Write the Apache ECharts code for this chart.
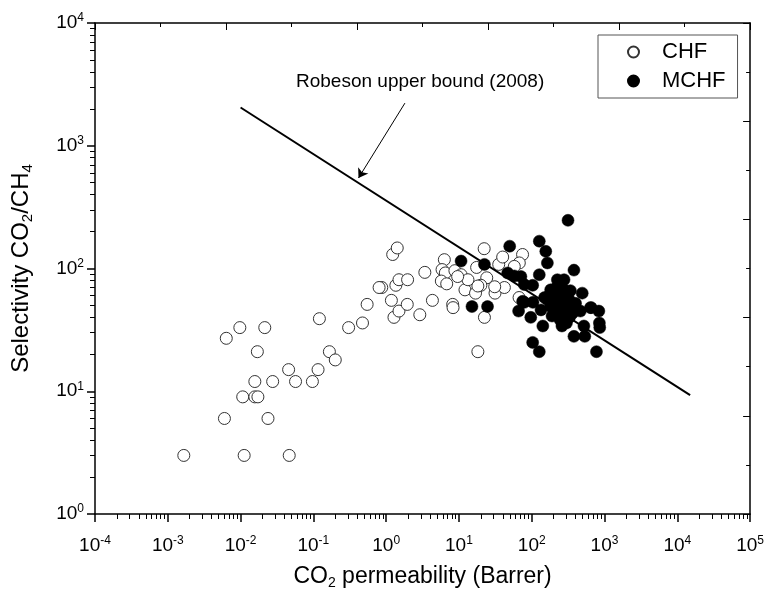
<!DOCTYPE html>
<html><head><meta charset="utf-8">
<script src="https://cdn.jsdelivr.net/npm/echarts@6/dist/echarts.min.js"></script>
<style>html,body{margin:0;padding:0;background:#fff}#c{width:767px;height:595px}</style>
</head><body><div id="c"></div>
<script>
// ---- data ----
const chfX = [0.00166,0.0112,0.0466,0.0060,0.0238,0.0107,0.0157,0.0173,0.0157,0.0276,0.0569,0.097,0.0457,0.116,0.166,0.200,0.0170,0.00636,0.00977,0.0215,0.121,0.305,0.473,0.548,1.28,1.50,1.18,1.95,2.9,4.32,8.2,8.3,0.87,0.80,1.36,1.50,1.97,1.23,1.42,3.40,6.3,5.86,6.5,8.8,10.7,5.73,6.79,12.1,16.9,18.2,22.2,22.4,17.5,24.1,35.2,39.9,31.3,42.1,20,74.8,67.5,67,18.2,13.3,9.6,31,57.6];
const chfY = [3,3,3,6,6,9,9,9,12,12,12,12,15,15,21,18,21,27,33,33,39,33,36,51,40,45,55,51,42,55,51,48,70,70,73,81,81,130,147,93,118,98,92,96,89,79,75,67,63,21,145,40,102,84,108,124,63,70,73,130,111,58,72,81,86,71,104];
const mchfX = [10.7,22.4,15.1,24.7,49.8,46.7,57.6,66,79,315,127,156,164,380,127,71,103,247,494,75,97,142,103,127,380,521,536,775,656,836,850,860,325,79,182,278,164,224,308,104,134,190,246,360,466,641,225,278,235,278,182,278,200,260,300,330,220,180,400,150,260,300,210,340];
const mchfY = [115,108,49,49,152,92,87,45,53,247,167,138,111,97,89,86,73,66,63,54,40,34,25,21,28,34,28,21,48,45,36,33,56,74,67,67,56,56,56,53,46,41,38,43,45,48,81,81,46,43,49,52,60,60,47,40,70,62,52,58,34,36,50,66];
const robesonX = [0.01, 15000];
const robesonY = [2050, 9.3];
const arrowX = [1.81, 0.417];
const arrowY = [2225, 546];
const xTickExp = [-4,-3,-2,-1,0,1,2,3,4,5];
const yTickExp = [0,1,2,3,4];
const seriesNames = ['CHF','MCHF'];
const annotation = 'Robeson upper bound (2008)';

// ---- helpers ----
const FONT = '"Liberation Sans", Arial, Helvetica, sans-serif';
const zip = (a, b) => a.map((v, i) => [v, b[i]]);
function minorVals(exps) {
  const out = [];
  for (let i = 0; i < exps.length - 1; i++)
    for (let m = 2; m <= 9; m++) out.push(m * Math.pow(10, exps[i]));
  return out;
}
const supRich = {
  b: {fontSize: 19, fontFamily: FONT, color: '#000'},
  s: {fontSize: 12, fontFamily: FONT, color: '#000', padding: [0, 0, 10, 0]}
};
const expLabel = v => '{b|10}{s|' + Math.round(Math.log10(v)) + '}';
const blackLine = w => ({color: '#000', width: w});
// opposite (top/right) frame axes: plain linear scales, 10 divisions
const frameAxis = pos => ({type: 'value', min: 0, max: 10, interval: 2, position: pos,
  axisLine: {show: true, onZero: false, lineStyle: blackLine(1.5)},
  axisTick: {show: true, inside: true, length: 7, lineStyle: blackLine(1)},
  minorTick: {show: true, splitNumber: 2, length: 4, lineStyle: blackLine(1)},
  axisLabel: {show: false}, splitLine: {show: false}});

const chart = echarts.init(document.getElementById('c'), null, {renderer: 'canvas'});
chart.setOption({
  animation: false,
  backgroundColor: '#fff',
  grid: {left: 95, right: 13, top: 23, bottom: 80, containLabel: false},
  legend: {
    orient: 'vertical', left: 598, top: 35,
    padding: [6, 12, 6, 29], itemWidth: 11, itemHeight: 11, itemGap: 7,
    borderColor: '#555', borderWidth: 1, backgroundColor: '#fff',
    textStyle: {fontSize: 22, lineHeight: 22, fontFamily: FONT, color: '#000', padding: [0, 0, 0, 18]},
    data: [{name: seriesNames[0], icon: 'circle'}, {name: seriesNames[1], icon: 'circle'}]
  },
  xAxis: [
    {type: 'log', logBase: 10, min: Math.pow(10, xTickExp[0]), max: Math.pow(10, xTickExp[xTickExp.length-1]),
     splitNumber: xTickExp.length - 1, position: 'bottom',
     axisLine: {show: true, onZero: false, lineStyle: blackLine(1.5)},
     axisTick: {show: true, inside: false, length: 8, lineStyle: blackLine(1.5)},
     minorTick: {show: false}, splitLine: {show: false},
     axisLabel: {formatter: expLabel, rich: supRich, margin: 21, color: '#000'},
     name: 'CO{sub|2} permeability (Barrer)', nameLocation: 'middle', nameGap: 50,
     nameTextStyle: {fontSize: 23, fontFamily: FONT, color: '#000',
       rich: {sub: {fontSize: 14, fontFamily: FONT, color: '#000', padding: [12, 0, 0, 0]}}}},
    {type: 'log', logBase: 10, min: Math.pow(10, xTickExp[0]), max: Math.pow(10, xTickExp[xTickExp.length-1]),
     position: 'bottom',
     axisLine: {show: false, onZero: false},
     axisTick: {show: true, inside: false, length: 5, customValues: minorVals(xTickExp), lineStyle: blackLine(1)},
     axisLabel: {show: false}, splitLine: {show: false}},
    frameAxis('top')
  ],
  yAxis: [
    {type: 'log', logBase: 10, min: Math.pow(10, yTickExp[0]), max: Math.pow(10, yTickExp[yTickExp.length-1]),
     splitNumber: yTickExp.length - 1, position: 'left',
     axisLine: {show: true, onZero: false, lineStyle: blackLine(1.5)},
     axisTick: {show: true, inside: false, length: 8, lineStyle: blackLine(1.5)},
     minorTick: {show: false}, splitLine: {show: false},
     axisLabel: {formatter: expLabel, rich: supRich, margin: 11, color: '#000'},
     name: 'Selectivity CO{sub|2}/CH{sub|4}', nameLocation: 'middle', nameGap: 60, nameRotate: 90,
     nameTextStyle: {fontSize: 24, fontFamily: FONT, color: '#000',
       rich: {sub: {fontSize: 15, fontFamily: FONT, color: '#000', padding: [12, 0, 0, 0]}}}},
    {type: 'log', logBase: 10, min: Math.pow(10, yTickExp[0]), max: Math.pow(10, yTickExp[yTickExp.length-1]),
     position: 'left',
     axisLine: {show: false, onZero: false},
     axisTick: {show: true, inside: false, length: 5, customValues: minorVals(yTickExp), lineStyle: blackLine(1)},
     axisLabel: {show: false}, splitLine: {show: false}},
    frameAxis('right')
  ],
  series: [
    {name: seriesNames[0], type: 'scatter', xAxisIndex: 0, yAxisIndex: 0, symbol: 'circle', symbolSize: 12,
     itemStyle: {color: '#fff', borderColor: '#333', borderWidth: 1, opacity: 1},
     data: zip(chfX, chfY), z: 3},
    {name: seriesNames[1], type: 'scatter', xAxisIndex: 0, yAxisIndex: 0, symbol: 'circle', symbolSize: 12,
     itemStyle: {color: '#000', borderColor: '#000', borderWidth: 0.5, opacity: 1},
     data: zip(mchfX, mchfY), z: 4},
    {name: 'Robeson', type: 'line', xAxisIndex: 0, yAxisIndex: 0, symbol: 'none', z: 5,
     lineStyle: {color: '#000', width: 2}, data: zip(robesonX, robesonY),
     markLine: {silent: true, symbol: ['none', 'arrow'], symbolSize: 9,
       lineStyle: {color: '#000', width: 1, type: 'solid'}, label: {show: false},
       data: [[{coord: [arrowX[0], arrowY[0]]}, {coord: [arrowX[1], arrowY[1]]}]]}}
  ],
  graphic: [
    {type: 'text', left: 296, top: 72, style: {text: annotation, font: '19px ' + FONT, fill: '#000'}}
  ]
});
</script>
</body></html>
